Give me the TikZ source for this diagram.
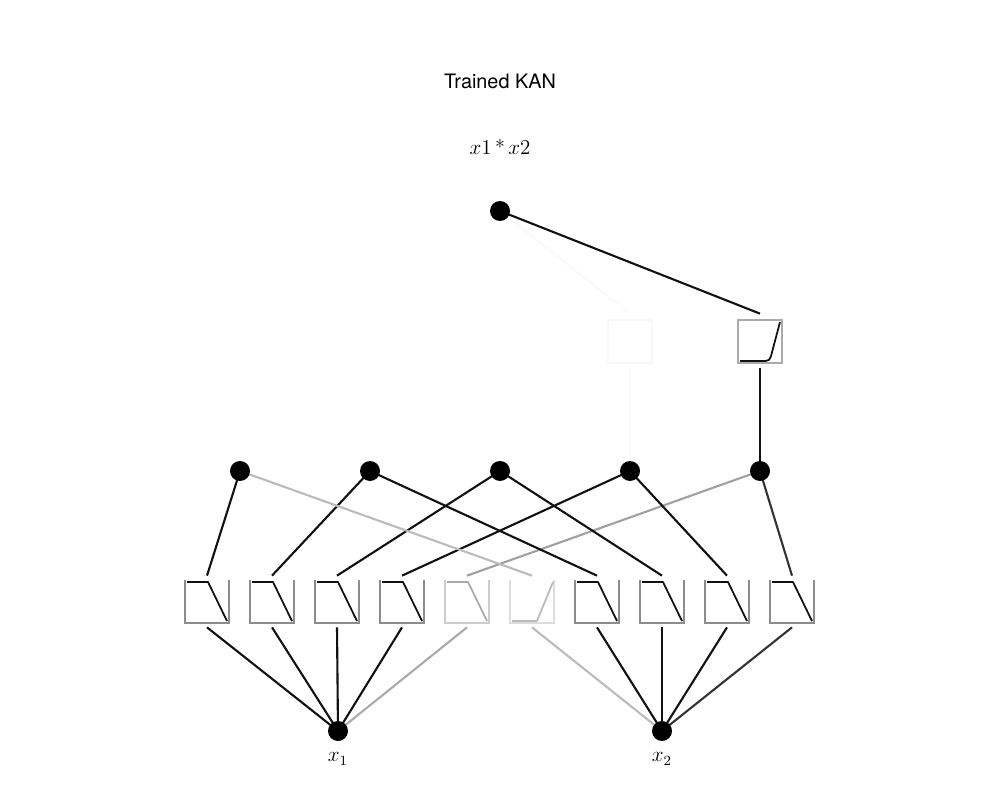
\documentclass[tikz,border=0pt]{standalone}
\usepackage{fontspec}
\newfontfamily\heros{TeX Gyre Heros}
\pgfdeclarelayer{bg}
\pgfsetlayers{bg,main}
\definecolor{ink}{HTML}{111111}
\definecolor{inkB}{HTML}{333333}
\definecolor{grA}{HTML}{AAAAAA}
\definecolor{grB}{HTML}{A0A0A0}
\definecolor{grC}{HTML}{BBBBBB}
\definecolor{frame}{HTML}{8C8C8C}
\definecolor{frameA}{HTML}{CCCCCC}
\definecolor{frameB}{HTML}{DDDDDD}
\definecolor{faint}{HTML}{F8F8F8}
\definecolor{fainter}{HTML}{FAFAFA}
\begin{document}
\begin{tikzpicture}[x=0.02cm,y=-0.02cm,
  dot/.style={circle,fill=black,minimum size=0.4cm,inner sep=0pt},
  actbox/.style={minimum width=0.88cm,minimum height=1.02cm,inner sep=0pt},
  upbox/.style={minimum width=0.88cm,minimum height=1.08cm,inner sep=0pt},
  edge/.style={line width=1.2pt},
  boxframe/.style={line width=0.6pt},
  curve/.style={line width=1pt,line join=round}]
\useasboundingbox (0,0) rectangle (1000,800);

% titles
\node (title) at (500,81) {\heros\fontsize{11.3}{13}\selectfont Trained KAN};
\node (formula) at (500,147) {\fontsize{11.5}{13}\selectfont $x1$\,*\,$x2$};

% nodes
\node[dot] (t) at (500,211) {};
\node[dot] (h1) at (240,471) {};
\node[dot] (h2) at (370,471) {};
\node[dot] (h3) at (500,471) {};
\node[dot] (h4) at (630,471) {};
\node[dot] (h5) at (760,471) {};
\node[dot] (x1) at (338,731) {};
\node[dot] (x2) at (662,731) {};
\node (l1) at (338,759) {\fontsize{12}{14}\selectfont $x_1$};
\node (l2) at (662,759) {\fontsize{12}{14}\selectfont $x_2$};

% activation boxes (lower layer)
\foreach \i/\c in {1/207,2/272,3/337,4/402,5/467,6/532,7/597,8/662,9/727,10/792}
  \node[actbox] (b\i) at (\c,601.5) {};
\node[upbox] (u1) at (630,341) {};
\node[upbox] (u2) at (760,341) {};

% lower box frames and curves
\foreach \c/\fc/\cc in {207/frame/ink,272/frame/ink,337/frame/ink,402/frame/ink,467/frameA/grA,597/frame/ink,662/frame/ink,727/frame/ink,792/frame/ink}{
  \draw[boxframe,\fc] (\c-22,580) -- (\c-22,623) -- (\c+22,623) -- (\c+22,580);
  \draw[curve,\cc] (\c-20,582) -- (\c+1,582) -- (\c+20,621);
}
\draw[boxframe,frameB] (510,580) -- (510,623) -- (554,623) -- (554,580);
\draw[curve,grC] (512,621) -- (537,621) -- (553,582);

% upper box frames and curves
\draw[boxframe,faint] (608,320) rectangle (652,363);
\draw[boxframe,grA] (738,320) rectangle (782,363);
\draw[curve,ink] (740,361) -- (766,361) .. controls (769,361) and (770,359) .. (771,356) -- (780,322);

% connectors
\begin{pgfonlayer}{bg}
\foreach \i/\col in {1/ink,2/ink,3/ink,4/ink,5/grA}
  \draw[edge,\col] (x1.center) -- (b\i.south);
\foreach \i/\col in {6/grC,7/ink,8/ink,9/ink,10/inkB}
  \draw[edge,\col] (x2.center) -- (b\i.south);
\draw[edge,ink] (b1.north) -- (h1.center);
\draw[edge,ink] (b2.north) -- (h2.center);
\draw[edge,ink] (b3.north) -- (h3.center);
\draw[edge,ink] (b4.north) -- (h4.center);
\draw[edge,grB] (b5.north) -- (h5.center);
\draw[edge,grC] (b6.north) -- (h1.center);
\draw[edge,ink] (b7.north) -- (h2.center);
\draw[edge,ink] (b8.north) -- (h3.center);
\draw[edge,ink] (b9.north) -- (h4.center);
\draw[edge,inkB] (b10.north) -- (h5.center);
\draw[edge,fainter] (h4.center) -- (u1.south);
\draw[edge,fainter] (u1.north) -- (t.center);
\draw[edge,ink] (h5.center) -- (u2.south);
\draw[edge,ink] (u2.north) -- (t.center);
\end{pgfonlayer}
\end{tikzpicture}
\end{document}
